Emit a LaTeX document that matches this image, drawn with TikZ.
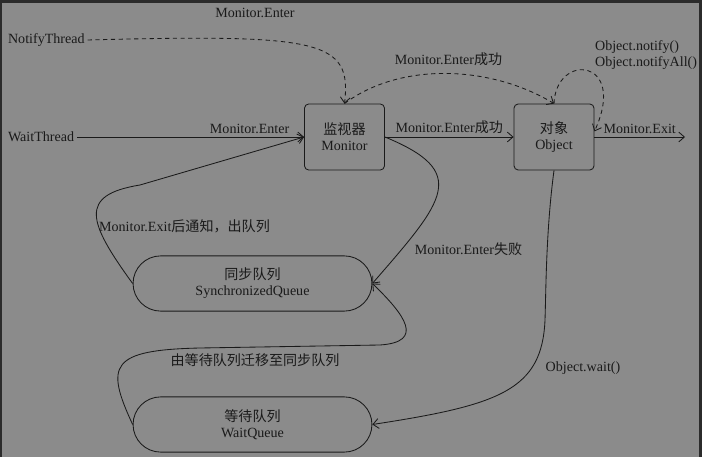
\documentclass[tikz,border=0pt]{standalone}
\usepackage{fontspec}
\setmainfont{Liberation Serif}
\newfontfamily\cjk{Noto Sans CJK SC}
\usetikzlibrary{arrows.meta}
\definecolor{gback}{HTML}{8B8B8B}
\definecolor{gedge}{HTML}{2B2B2B}
\definecolor{gink}{HTML}{1A1A1A}
\tikzset{
  box/.style={draw=gink,rounded corners=3pt,line width=0.6pt,align=center,text=gink,font=\fontsize{10}{11.5}\selectfont,minimum width=2cm,minimum height=1.65cm,inner sep=2pt},
  queue/.style={draw=gink,rounded corners=0.69cm,line width=0.6pt,align=center,text=gink,font=\fontsize{10}{11.5}\selectfont,minimum width=5.97cm,minimum height=1.38cm,inner sep=2pt},
  arr/.style={-{Straight Barb[length=4pt,width=7pt]},line width=0.6pt,draw=gink},
  darr/.style={arr,dash pattern=on 3pt off 2.5pt},
  lbl/.style={font=\fontsize{10}{11.5}\selectfont,text=gink,inner sep=2pt},
}

\begin{document}
\begin{tikzpicture}[x=0.025cm,y=-0.025cm]
  \fill[gedge] (0,0) rectangle (702,457);
  \fill[gback] (2,3) rectangle (699,457);
  \node[box] (mon) at (344.5,137) {{\cjk 监视器}\\Monitor};
  \node[box] (obj) at (554,137) {{\cjk 对象}\\Object};
  \node[queue] (sq) at (252.5,283.5) {{\cjk 同步队列}\\SynchronizedQueue};
  \node[queue] (wq) at (252.5,424.5) {{\cjk 等待队列}\\WaitQueue};
  \node[lbl,anchor=west] (nt) at (5,40) {NotifyThread};
  \node[lbl,anchor=west] (wt) at (5,137) {WaitThread};
  \coordinate (out) at (685,137);
  \draw[darr] (nt.east) .. controls (320,34) and (352,40) .. (mon.north);
  \node[lbl] (ntl) at (255,13) {Monitor.Enter};
  \draw[darr] (mon.north) .. controls (400,62) and (490,65) .. (obj.north);
  \node[lbl] (okl) at (448.5,59) {Monitor.Enter{\cjk 成功}};
  \draw[darr] (obj.north) .. controls (556,52) and (628,58) .. ([yshift=4pt]obj.east);
  \node[lbl,anchor=west,align=left] (nfl) at (592,55) {Object.notify()\\Object.notifyAll()};
  \draw[arr] (wt.east) -- (mon.west) node[lbl,pos=0.76,above] (wtl) {Monitor.Enter};
  \draw[arr] (mon.east) -- (obj.west) node[lbl,midway,above] (mol) {Monitor.Enter{\cjk 成功}};
  \draw[arr] (obj.east) -- (out) node[lbl,midway,above] (exl) {Monitor.Exit};
  \draw[arr] (sq.west) .. controls (88,222) and (78,195) .. (140,185) -- (mon.west);
  \node[lbl] (sql) at (184.5,226) {Monitor.Exit{\cjk 后通知，出队列}};
  \draw[arr] (mon.east) .. controls (470,172) and (445,200) .. (sq.east);
  \node[lbl] (fal) at (468.5,249) {Monitor.Enter{\cjk 失败}};
  \draw[arr] (wq.west) .. controls (105,365) and (110,350) .. (200,348) -- (380,345) .. controls (425,342) and (405,315) .. (sq.east);
  \node[lbl] (mvl) at (255,360) {\cjk 由等待队列迁移至同步队列};
  \draw[arr] (obj.south) .. controls (546,230) and (546,290) .. (545,320) .. controls (542,390) and (500,405) .. (wq.east);
  \node[lbl] (wal) at (583,368) {Object.wait()};
\end{tikzpicture}
\end{document}
